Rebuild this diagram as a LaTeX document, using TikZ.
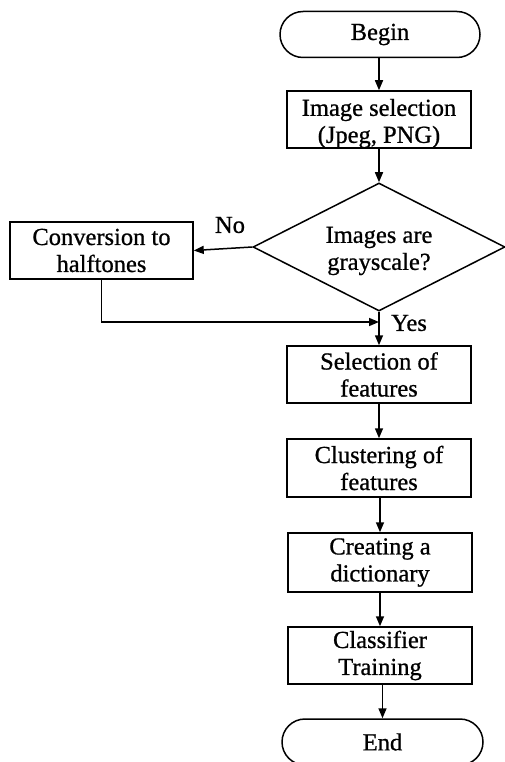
\documentclass[tikz,border=0pt]{standalone}
\usepackage{fontspec}
\setmainfont{Liberation Serif}[FakeBold=0.8]
\usetikzlibrary{shapes.geometric,shapes.misc,arrows.meta}
\begin{document}
\begin{tikzpicture}[x=1pt,y=-1pt,
  every node/.style={font=\fontsize{24.5}{27}\selectfont, align=center, inner sep=0pt},
  procbox/.style={draw, line width=1.5pt, minimum width=184pt, minimum height=57pt},
  termbox/.style={draw, line width=1.5pt, rounded rectangle, minimum width=200pt, minimum height=46pt},
  decbox/.style={draw, line width=1.5pt, diamond, minimum width=252pt, minimum height=128pt, shape aspect=1.97},
  conn/.style={line width=1.5pt, -{Triangle[length=10pt,width=8pt]}},
  plainline/.style={line width=1.5pt}
]
\useasboundingbox (0,0) rectangle (505,762);
\node[termbox] (begin) at (380,34.5) {Begin};
\node[procbox] (imgsel) at (379,119.5) {};
\node[yshift=-4pt] (imgseltext) at (imgsel.center) {Image selection\\(Jpeg, PNG)};
\node[decbox] (gray) at (379,247) {};
\node[yshift=-4pt] (graytext) at (gray.center) {Images are\\grayscale?};
\node[procbox, minimum width=183pt] (conv) at (101.5,250.5) {Conversion to\\halftones};
\node[procbox] (selfeat) at (379,374.5) {Selection of\\features};
\node[procbox, minimum height=58pt] (clust) at (379,468) {Clustering of\\features};
\node[procbox, minimum height=59pt] (dict) at (380,562.5) {Creating a\\dictionary};
\node[procbox] (train) at (380,655.5) {Classifier\\Training};
\node[termbox, minimum width=201pt] (end) at (382.5,742) {End};
\coordinate (join) at (379,322);
\node (no) at (230,225) {No};
\node[anchor=west] (yes) at (391,323) {Yes};
\draw[conn] (begin.south -| imgsel.north) -- (imgsel.north);
\draw[conn] (imgsel.south) -- (gray.north);
\draw[conn] (gray.west) -- (conv.east);
\draw[conn] (gray.south) -- (selfeat.north);
\draw[conn] (conv.south) |- (join);
\draw[conn] (selfeat.south) -- (clust.north);
\draw[conn] (clust.south -| dict.north) -- (dict.north);
\draw[conn] (dict.south) -- (train.north);
\draw[conn] (train.south -| end.north) -- (end.north);
\end{tikzpicture}
\end{document}
